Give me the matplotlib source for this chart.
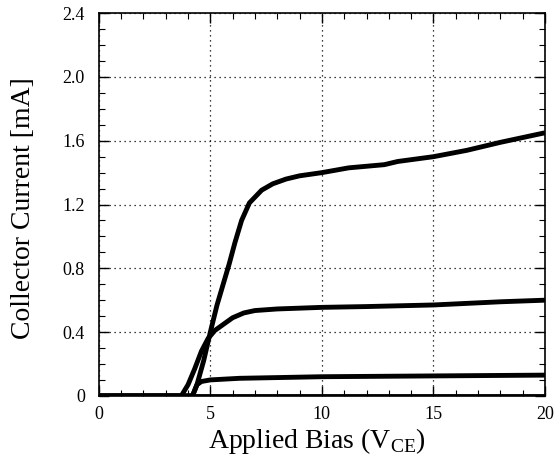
#!/usr/bin/env python3
"""
Collector current vs applied bias (V_CE) for several base drive levels.
"""
import sys
import matplotlib; matplotlib.use('Agg'); import matplotlib.pyplot as plt
from matplotlib.ticker import MultipleLocator, FuncFormatter

# curve values (x in V, y in mA)
vce_top = [0, 4.2, 4.4, 4.7, 5.0, 5.3, 5.85, 6.1, 6.4, 6.75, 7.3, 7.8, 8.4, 9.0, 10.0, 11.2, 12.8, 13.4, 15.0, 16.5, 18.0, 20.0]
ic_top = [0, 0, 0.07, 0.22, 0.40, 0.57, 0.83, 0.96, 1.10, 1.21, 1.29, 1.33, 1.36, 1.38, 1.40, 1.43, 1.45, 1.47, 1.50, 1.54, 1.59, 1.65]

vce_mid = [0, 3.7, 4.0, 4.3, 4.6, 4.9, 5.2, 5.6, 6.0, 6.5, 7.0, 8.0, 10.0, 12.0, 15.0, 18.0, 20.0]
ic_mid = [0, 0, 0.07, 0.17, 0.28, 0.36, 0.41, 0.45, 0.49, 0.52, 0.535, 0.545, 0.555, 0.56, 0.57, 0.59, 0.60]

vce_low = [0, 4.2, 4.4, 4.6, 5.0, 6.3, 10.0, 15.0, 20.0]
ic_low = [0, 0, 0.07, 0.09, 0.10, 0.11, 0.12, 0.125, 0.13]

vce_zero = [0, 20]
ic_zero = [0, 0]

XLABEL = r'Applied Bias (V$_{\mathrm{CE}}$)'
YLABEL = 'Collector Current [mA]'


def main():
    plt.rcParams['font.family'] = ['Liberation Serif', 'DejaVu Serif']
    plt.rcParams['mathtext.fontset'] = 'custom'
    plt.rcParams['mathtext.rm'] = 'Liberation Serif'

    fig = plt.figure(figsize=(5.55, 4.55), dpi=100)
    ax = fig.add_axes([0.178, 0.13, 0.804, 0.841])

    for xs, ys in [(vce_zero, ic_zero), (vce_low, ic_low), (vce_mid, ic_mid), (vce_top, ic_top)]:
        ax.plot(xs, ys, color='black', linewidth=3.5, solid_capstyle='butt', solid_joinstyle='round')

    ax.set_xlim(0, 20); ax.set_ylim(0, 2.4)
    ax.xaxis.set_major_locator(MultipleLocator(5)); ax.xaxis.set_minor_locator(MultipleLocator(1))
    ax.yaxis.set_major_locator(MultipleLocator(0.4)); ax.yaxis.set_minor_locator(MultipleLocator(0.1))
    ax.xaxis.set_major_formatter(FuncFormatter(lambda v, p: '%d' % round(v)))
    ax.yaxis.set_major_formatter(FuncFormatter(lambda v, p: '0' if abs(v) < 1e-9 else '%.1f' % v))
    ax.tick_params(which='both', direction='in', top=True, right=True, labelsize=13, colors='black')
    ax.tick_params(which='major', length=7, width=1.0)
    ax.tick_params(which='minor', length=4, width=0.8)
    ax.tick_params(axis='x', which='major', pad=7)
    ax.tick_params(axis='y', which='major', pad=10)
    ax.grid(True, which='major', linestyle=(0, (1, 3)), color='black', linewidth=0.9)
    for s in ax.spines.values():
        s.set_linewidth(1.2)

    ax.set_xlabel(XLABEL, fontsize=20)
    ax.set_ylabel(YLABEL, fontsize=20)
    ax.xaxis.set_label_coords(0.489, -0.08)
    ax.yaxis.set_label_coords(-0.14, 0.49)

    fig.savefig('out.png', dpi=100)
    plt.close(fig)
    return 0


if __name__ == '__main__':
    sys.exit(main())
